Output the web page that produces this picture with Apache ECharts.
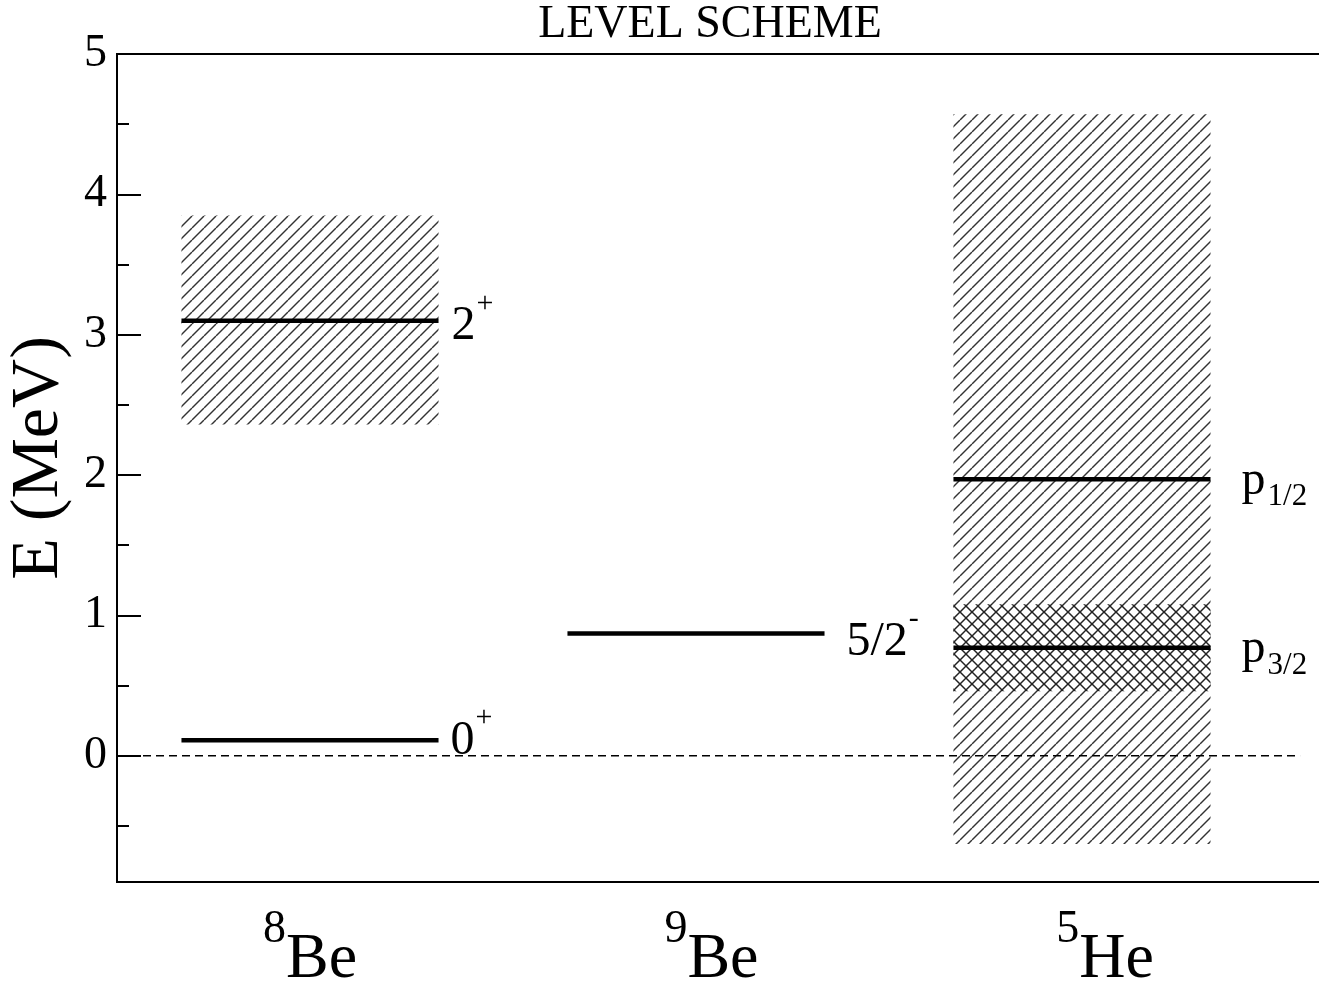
<!DOCTYPE html>
<html><head><meta charset="utf-8">
<script src="https://cdn.jsdelivr.net/npm/echarts@6/dist/echarts.min.js"></script>
<style>html,body{margin:0;padding:0;background:#fff}#c{width:1319px;height:985px}</style>
</head><body><div id="c"></div>
<script>
// ---- data ----
const nucleusMass = ['8', '9', '5'];
const nucleusSymbol = ['Be', 'Be', 'He'];
const nucleusCenter = [1, 2, 3];
const nucleusLabelPos = [1.0, 2.04, 3.06];
const levelNucleus = [0, 0, 1, 2, 2];
const levelEnergy = [0.11, 3.10, 0.87, 1.97, 0.77];
const levelMain = ['0', '2', '5/2', 'p', 'p'];
const levelSup = ['+', '+', '-', '', ''];
const levelSub = ['', '', '', '1/2', '3/2'];
const bandNucleus = [0, 2, 2];
const bandLow = [2.36, -0.63, 0.46];
const bandHigh = [3.85, 4.57, 1.08];
const bandKind = ['hatch', 'hatch', 'cross'];
const yMajorTicks = [0, 1, 2, 3, 4, 5];
const yMinorTicks = [-0.5, 0.5, 1.5, 2.5, 3.5, 4.5];
const zeroLine = [[0.5, 0], [3.565, 0]];

// ---- style ----
const F = 'Liberation Serif';
const HALF = 0.333;
const labelGap = [12, 13, 22, 31, 31];
const labelDy = [1, 6, 9, 2, 2];

function makePattern(cross) {
  const s = 12;
  const c = document.createElement('canvas');
  c.width = s; c.height = s;
  const g = c.getContext('2d');
  if (cross) { g.fillStyle = '#fff'; g.fillRect(0, 0, s, s); }
  g.strokeStyle = cross ? '#222' : '#333';
  g.lineWidth = cross ? 1.5 : 1.4;
  for (let k = -1; k <= 1; k++) {
    g.beginPath(); g.moveTo(k * s, s); g.lineTo(k * s + s, 0); g.stroke();
    if (cross) { g.beginPath(); g.moveTo(k * s, 0); g.lineTo(k * s + s, s); g.stroke(); }
  }
  return { image: c, repeat: 'repeat' };
}
const patterns = { hatch: makePattern(false), cross: makePattern(true) };

const bandData = bandNucleus.map((n, i) => [nucleusCenter[n] - HALF, nucleusCenter[n] + HALF, bandLow[i], bandHigh[i]]);
const levelData = levelNucleus.map((n, i) => [nucleusCenter[n] - HALF, nucleusCenter[n] + HALF, levelEnergy[i]]);

const levelRich = {
  m: { fontSize: 48, fontFamily: F, fill: '#000', verticalAlign: 'middle' },
  sup: { fontSize: 30, fontFamily: F, fill: '#000', verticalAlign: 'middle', padding: [0, 0, 46, 1] },
  sub: { fontSize: 31, fontFamily: F, fill: '#000', verticalAlign: 'middle', padding: [32, 0, 0, 2] }
};

const chart = echarts.init(document.getElementById('c'), null, { renderer: 'canvas' });
chart.setOption({
  animation: false,
  backgroundColor: '#fff',
  title: {
    text: 'LEVEL SCHEME', left: 710, top: 3, textAlign: 'center', padding: 0,
    textStyle: { fontFamily: F, fontSize: 46, fontWeight: 'normal', color: '#000', lineHeight: 44 }
  },
  grid: { left: 117, top: 54, right: -5, bottom: 103, show: true, borderColor: '#000', borderWidth: 2,
    outerBoundsMode: 'none', containLabel: false },
  xAxis: {
    type: 'value', min: 0.5, max: 3.627,
    axisLine: { show: true, onZero: false, lineStyle: { color: '#000', width: 2 } },
    axisTick: { show: false },
    splitLine: { show: false },
    axisLabel: {
      customValues: nucleusLabelPos, margin: 25,
      formatter: function (v) {
        const i = nucleusLabelPos.findIndex(p => Math.abs(p - v) < 1e-6);
        return i < 0 ? '' : '{s|' + nucleusMass[i] + '}{m|' + nucleusSymbol[i] + '}';
      },
      rich: {
        s: { fontSize: 46, fontFamily: F, color: '#000', verticalAlign: 'middle', padding: [0, 0, 60, 0] },
        m: { fontSize: 64, fontFamily: F, color: '#000', verticalAlign: 'middle' }
      }
    }
  },
  yAxis: [{
    type: 'value', min: -0.9, max: 5, position: 'left',
    name: 'E (MeV)', nameLocation: 'middle', nameGap: 41,
    nameTextStyle: { fontFamily: F, fontSize: 68, color: '#000', padding: [0, 0, 0, 20] },
    axisLine: { show: true, onZero: false, lineStyle: { color: '#000', width: 2 } },
    axisTick: { show: true, inside: true, length: 24, customValues: yMajorTicks, lineStyle: { color: '#000', width: 2 } },
    axisLabel: { customValues: yMajorTicks, fontFamily: F, fontSize: 46, color: '#000', margin: 10 },
    splitLine: { show: false }
  }, {
    type: 'value', min: -0.9, max: 5, position: 'left',
    axisLine: { show: false, onZero: false },
    axisTick: { show: true, inside: true, length: 12, customValues: yMinorTicks, lineStyle: { color: '#000', width: 2 } },
    axisLabel: { show: false },
    splitLine: { show: false }
  }],
  series: [{
    type: 'custom', silent: true, data: bandData,
    encode: { x: [0, 1], y: [2, 3] },
    renderItem: function (params, api) {
      const i = params.dataIndex;
      const p0 = api.coord([api.value(0), api.value(3)]);
      const p1 = api.coord([api.value(1), api.value(2)]);
      return { type: 'rect', shape: { x: p0[0], y: p0[1], width: p1[0] - p0[0], height: p1[1] - p0[1] },
        style: { fill: patterns[bandKind[i]] } };
    }
  }, {
    type: 'line', silent: true, data: zeroLine, symbol: 'none',
    lineStyle: { color: '#000', width: 1.5, type: [8, 5] }
  }, {
    type: 'custom', silent: true, data: levelData,
    encode: { x: [0, 1], y: 2 },
    renderItem: function (params, api) {
      const i = params.dataIndex;
      const a = api.coord([api.value(0), api.value(2)]);
      const b = api.coord([api.value(1), api.value(2)]);
      let txt = '{m|' + levelMain[i] + '}';
      if (levelSup[i]) txt += '{sup|' + levelSup[i] + '}';
      if (levelSub[i]) txt += '{sub|' + levelSub[i] + '}';
      return { type: 'group', children: [
        { type: 'line', shape: { x1: a[0], y1: a[1], x2: b[0], y2: b[1] }, style: { stroke: '#000', lineWidth: 4.5 } },
        { type: 'text', x: b[0] + labelGap[i], y: a[1] + labelDy[i],
          style: { text: txt, rich: levelRich, verticalAlign: 'middle', align: 'left', fill: '#000', fontFamily: F, fontSize: 48 } }
      ] };
    }
  }]
});
</script></body></html>
